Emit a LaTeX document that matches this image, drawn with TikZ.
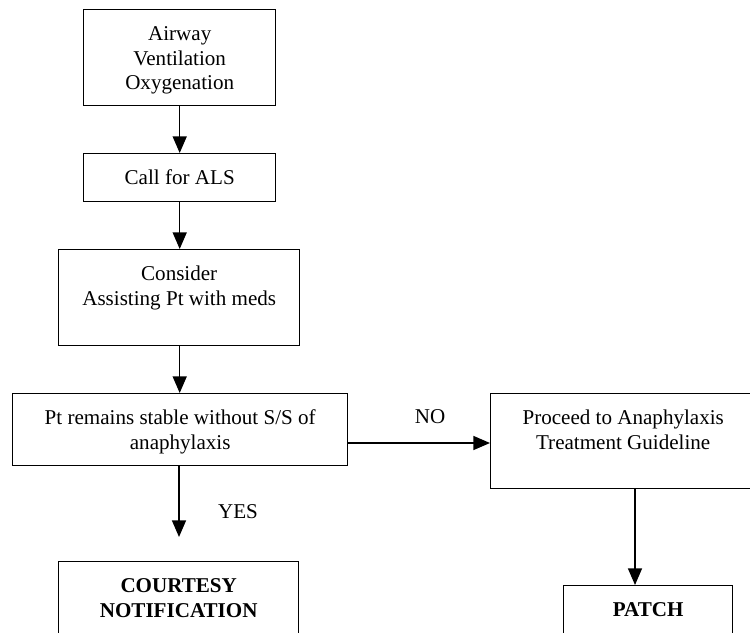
\documentclass[tikz,border=0pt]{standalone}
\usepackage{fontspec}
\setmainfont{Liberation Serif}
\usetikzlibrary{arrows.meta}

% one drawing unit
\newdimen\pxu
\pxu=0.5695pt

% box contents: fixed width and height, text set from the top
\newcommand{\flowtext}[3]{%
  \parbox[c][#2\pxu][t]{#1\pxu}{\centering\fontsize{12}{13.8}\selectfont
    \rule{0pt}{17.7pt}#3}}

\tikzset{
  flowbox/.style={draw, line width=0.8pt, inner sep=0pt, anchor=north west},
  flowarrow/.style={line width=0.8pt, -{Triangle[width=8pt,length=9.5pt]}},
  branchlabel/.style={font=\fontsize{12}{13.8}\selectfont, inner sep=0pt}
}

\begin{document}
\begin{tikzpicture}[x=0.5695pt, y=-0.5695pt]
  \useasboundingbox (0,0) rectangle (750,632);
  \clip (0,0) rectangle (750,632);

  % main column
  \node[flowbox] (airway) at (83,9)
    {\flowtext{192}{96}{Airway\\Ventilation\\Oxygenation}};
  \node[flowbox] (als) at (83,153)
    {\flowtext{192}{48}{Call for ALS}};
  \node[flowbox] (meds) at (58,249)
    {\flowtext{241}{96}{Consider\\Assisting Pt with meds}};
  \node[flowbox] (stable) at (12,393)
    {\flowtext{335}{72}{Pt remains stable without S/S of\\anaphylaxis}};

  % outcomes
  \node[flowbox] (anaph) at (490,393)
    {\flowtext{265}{95}{Proceed to Anaphylaxis\\Treatment Guideline}};
  \node[flowbox] (courtesy) at (58,561)
    {\flowtext{240}{90}{\bfseries COURTESY\\NOTIFICATION}};
  \node[flowbox] (patch) at (563,585)
    {\flowtext{169}{70}{\bfseries PATCH}};

  % helper points for the branch connectors
  \coordinate (yesend) at (179,537);
  \coordinate (noline) at (490,443);
  \coordinate (patchx) at (635,0);

  % connectors
  \draw[flowarrow] (airway.south) -- (als.north);
  \draw[flowarrow] (als.south) -- (meds.north -| als.south);
  \draw[flowarrow] (meds.south -| als.south) -- (stable.north -| als.south);
  \draw[flowarrow] (stable.south -| yesend) -- (yesend);
  \draw[flowarrow] (stable.east |- noline) -- (noline);
  \draw[flowarrow] (anaph.south -| patchx) -- (patch.north -| patchx);

  % branch labels
  \node[branchlabel] (yes) at (238,512) {YES};
  \node[branchlabel] (no) at (430,417) {NO};
\end{tikzpicture}
\end{document}
